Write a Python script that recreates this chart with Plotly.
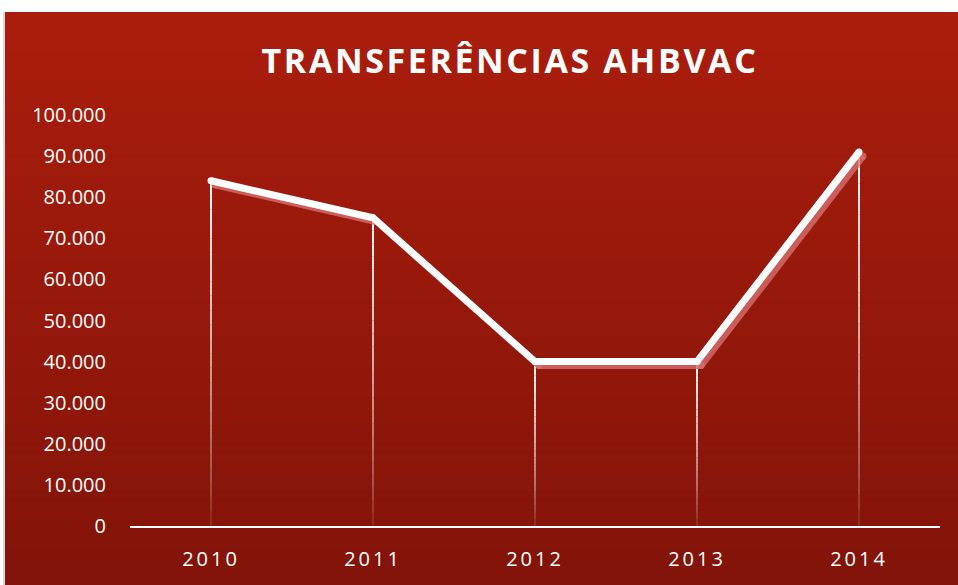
import plotly.graph_objects as go

years = ["2010", "2011", "2012", "2013", "2014"]
values = [84000, 75000, 40000, 40000, 91000]
y_ticks = [0, 10000, 20000, 30000, 40000, 50000, 60000, 70000, 80000, 90000, 100000]
y_tick_labels = ["0", "10.000", "20.000", "30.000", "40.000", "50.000",
                 "60.000", "70.000", "80.000", "90.000", "100.000"]

W, H = 958, 585
L, R, T, B = 130, 18, 115, 59
pw, ph = W - L - R, H - T - B

def px_x(px):
    return (px - L) / pw

def px_y(py):
    return (H - B - py) / ph

xs = list(range(len(years)))
fig = go.Figure()

# background gradient card
shapes = []
top_c = (170, 29, 13)
bot_c = (130, 20, 9)
n = 60
y0p, y1p = 12, H + 2
for i in range(n):
    t = i / (n - 1)
    c = tuple(int(round(top_c[k] + (bot_c[k] - top_c[k]) * t)) for k in range(3))
    a = y0p + (y1p - y0p) * i / n
    shapes.append(dict(type="rect", xref="paper", yref="paper", layer="below",
                       x0=px_x(5), x1=px_x(W + 2), y0=px_y(y1p), y1=px_y(a),
                       fillcolor="rgb(%d,%d,%d)" % c, line=dict(width=0)))
# left edge shadow
shapes.append(dict(type="rect", xref="paper", yref="paper", layer="below",
                   x0=px_x(3), x1=px_x(5), y0=px_y(H + 2), y1=px_y(12),
                   fillcolor="rgba(140,140,140,0.35)", line=dict(width=0)))

# drop lines with fading gradient, derived from data
segs = 24
for xi, v in zip(xs, values):
    for s in range(segs):
        ya = v * s / segs
        yb = v * (s + 1) / segs
        op = 0.06 + 0.94 * ((s + 0.5) / segs) ** 0.8
        fig.add_trace(go.Scatter(x=[xi, xi], y=[ya, yb], mode="lines",
                                 line=dict(color="rgba(255,255,255,%.3f)" % op, width=2),
                                 hoverinfo="skip", showlegend=False))

# shadow of the line (offset overlay axes)
fig.add_trace(go.Scatter(x=xs, y=values, mode="lines+markers", xaxis="x2", yaxis="y2",
                         line=dict(color="rgba(215,110,110,0.8)", width=7),
                         marker=dict(size=7, color="rgba(215,110,110,0.8)", line=dict(width=0)),
                         hoverinfo="skip", showlegend=False))
# main line (overlay drawn on top)
fig.add_trace(go.Scatter(x=xs, y=values, mode="lines+markers", xaxis="x3", yaxis="y3",
                         line=dict(color="white", width=7),
                         marker=dict(size=7, color="white", line=dict(width=0)),
                         showlegend=False))

tick_font = dict(family="Open Sans, Liberation Sans, sans-serif", size=20, color="white")

off = 4  # shadow offset in px
fig.update_layout(
    width=W, height=H,
    margin=dict(l=L, r=R, t=T, b=B),
    paper_bgcolor="white",
    plot_bgcolor="rgba(0,0,0,0)",
    shapes=shapes,
    title=dict(text='<span style="letter-spacing:2.6px">TRANSFERÊNCIAS AHBVAC</span>',
               x=510 / W, xanchor="center",
               y=1 - 61 / H, yanchor="middle",
               font=dict(family="Open Sans, sans-serif", size=34, color="white", weight="bold")),
    xaxis=dict(range=[-0.5, 4.5], tickvals=xs,
               ticktext=['<span style="letter-spacing:3px">%s</span>' % y for y in years],
               showgrid=False, zeroline=False, showline=True, linecolor="white", linewidth=2,
               ticks="outside", ticklen=14, tickcolor="rgba(0,0,0,0)",
               tickfont=tick_font, fixedrange=True),
    yaxis=dict(range=[0, 100000], tickvals=y_ticks, ticktext=y_tick_labels,
               showgrid=False, zeroline=False, showline=False,
               ticks="outside", ticklen=19, tickcolor="rgba(0,0,0,0)",
               tickfont=tick_font, fixedrange=True),
    xaxis2=dict(range=[-0.5 - off * 5 / pw, 4.5 - off * 5 / pw], overlaying="x", visible=False,
                fixedrange=True),
    yaxis2=dict(range=[off * 100000 / ph, 100000 + off * 100000 / ph], overlaying="y",
                visible=False, fixedrange=True),
    xaxis3=dict(range=[-0.5, 4.5], overlaying="x", visible=False, fixedrange=True),
    yaxis3=dict(range=[0, 100000], overlaying="y", visible=False, fixedrange=True),
)

fig.write_html("out.html", config={"displayModeBar": False},
               post_script="document.body.style.margin='0';")
